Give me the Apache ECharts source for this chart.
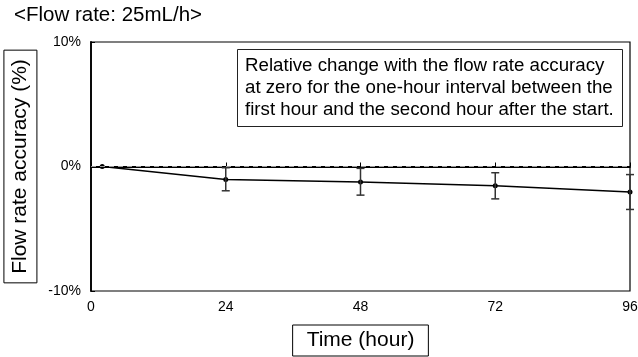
<!DOCTYPE html>
<html><head><meta charset="utf-8">
<script src="https://cdn.jsdelivr.net/npm/echarts@6/dist/echarts.min.js"></script>
<style>html,body{margin:0;padding:0;background:#fff}#c{width:638px;height:357px}</style>
</head><body><div id="c"></div>
<script>
const hours = [2, 24, 48, 72, 96];
const accuracy = [0, -1.05, -1.25, -1.55, -2.05];
const errLow = [0, -1.95, -2.3, -2.6, -3.45];
const errHigh = [0, -0.1, -0.15, -0.5, -0.65];
const xTicks = [0, 24, 48, 72, 96];
const yTicks = [-10, 0, 10];

const chart = echarts.init(document.getElementById('c'));
const font = 'Liberation Sans, Arial, sans-serif';
chart.setOption({
  animation: false,
  title: [
    { text: '<Flow rate: 25mL/h>', left: 14, top: 5, padding: 0,
      textStyle: { fontFamily: font, fontSize: 20.5, fontWeight: 'normal', color: '#000' } },
    { text: 'Relative change with the flow rate accuracy\nat zero for the one-hour interval between the\nfirst hour and the second hour after the start.',
      left: 237, top: 49, padding: [6, 9, 6, 8], borderColor: '#222', borderWidth: 1, backgroundColor: '#fff',
      textStyle: { fontFamily: font, fontSize: 18.7, fontWeight: 'normal', color: '#000', lineHeight: 22 } }
  ],
  grid: { left: 91, right: 8, top: 42, bottom: 66, show: true, borderColor: '#000', borderWidth: 1.2,
          containLabel: false, outerBoundsMode: 'none' },
  xAxis: {
    type: 'value', min: 0, max: 96, interval: 24,
    axisLine: { lineStyle: { color: '#000', width: 1.8 } },
    axisTick: { inside: true, length: 4, lineStyle: { color: '#000' } },
    splitLine: { show: false },
    axisLabel: { color: '#000', fontFamily: font, fontSize: 14, margin: 9 },
    name: 'Time (hour)', nameLocation: 'middle', nameGap: 34,
    nameTextStyle: { color: '#000', fontFamily: font, fontSize: 21, borderColor: '#000', borderWidth: 1, padding: [5, 14, 5, 14] }
  },
  yAxis: {
    type: 'value', min: -10, max: 10, interval: 10,
    axisLine: { lineStyle: { color: '#000', width: 1.8 } },
    axisTick: { inside: true, length: 4, lineStyle: { color: '#000' } },
    splitLine: { show: false },
    axisLabel: { color: '#000', fontFamily: font, fontSize: 14, margin: 10, formatter: v => v + '%' },
    name: 'Flow rate accuracy (%)', nameLocation: 'middle', nameGap: 39,
    nameTextStyle: { color: '#000', fontFamily: font, fontSize: 21, borderColor: '#000', borderWidth: 1, padding: [6, 9, 6, 9] }
  },
  series: [
    { type: 'line', data: hours.map((h, i) => [h, accuracy[i]]),
      symbol: 'circle', symbolSize: 5, itemStyle: { color: '#000' },
      lineStyle: { color: '#000', width: 1.5 }, z: 3,
      markLine: { silent: true, symbol: 'none', label: { show: false },
        lineStyle: { color: '#999', type: [5, 4], width: 1 }, data: [{ yAxis: 0 }] } },
    { type: 'custom', z: 4,
      data: hours.map((h, i) => [h, errLow[i], errHigh[i]]).filter((d, i) => i > 0),
      renderItem: (params, api) => {
        const x = api.value(0);
        const lo = api.coord([x, api.value(1)]);
        const hi = api.coord([x, api.value(2)]);
        const w = 4;
        const st = { stroke: '#333', lineWidth: 1.5 };
        return { type: 'group', children: [
          { type: 'line', shape: { x1: lo[0], y1: lo[1], x2: hi[0], y2: hi[1] }, style: st },
          { type: 'line', shape: { x1: lo[0] - w, y1: lo[1], x2: lo[0] + w, y2: lo[1] }, style: st },
          { type: 'line', shape: { x1: hi[0] - w, y1: hi[1], x2: hi[0] + w, y2: hi[1] }, style: st }
        ] };
      } }
  ]
});
</script></body></html>
